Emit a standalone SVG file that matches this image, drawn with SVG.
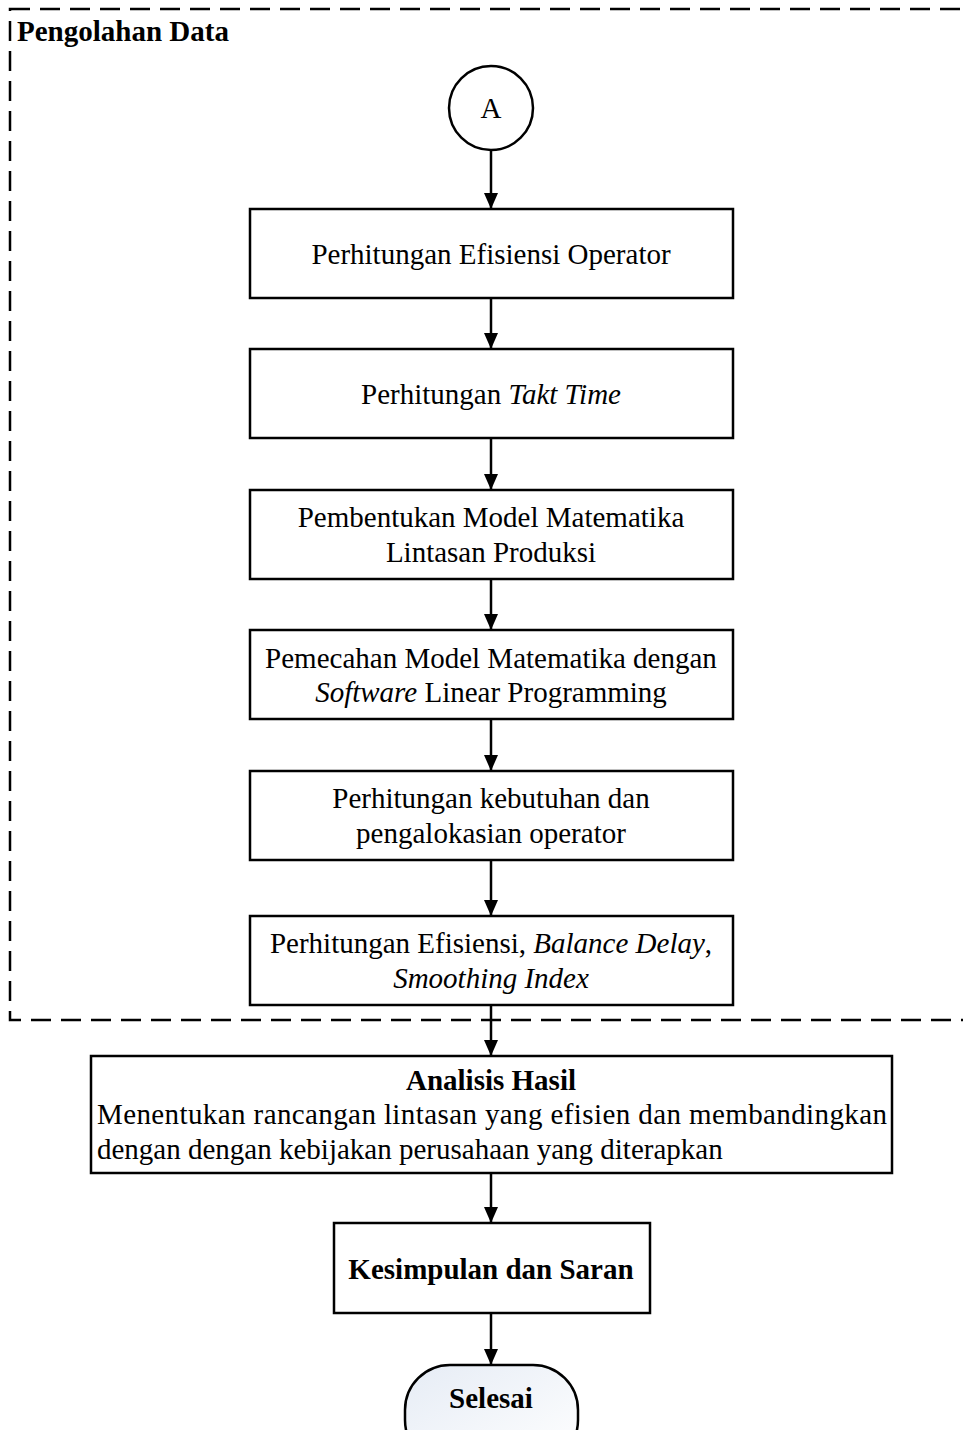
<svg xmlns="http://www.w3.org/2000/svg" width="963" height="1430" viewBox="0 0 963 1430">
<style>
.box{fill:#fff;stroke:#000;stroke-width:2.5}
.t{font-family:"Liberation Serif","Times New Roman",serif;font-size:29px;fill:#000;text-anchor:middle}
.b{font-weight:bold}
.i{font-style:italic}
.con{stroke:#000;stroke-width:2.5;fill:none}
</style>
<defs>
<marker id="arr" viewBox="0 0 16 14" refX="16" refY="7" markerWidth="16" markerHeight="14" markerUnits="userSpaceOnUse" orient="auto">
<path d="M0,0 L16,7 L0,14 Z" fill="#000"/>
</marker>
<linearGradient id="g" x1="0" y1="0" x2="1" y2="1">
<stop offset="0" stop-color="#e6ecf5"/>
<stop offset="1" stop-color="#ffffff"/>
</linearGradient>
</defs>
<g id="frame">
<rect x="10" y="9" width="1000" height="1011" fill="none" stroke="#000" stroke-width="2.5" stroke-dasharray="20 10"/>
<text class="t b" x="17" y="41" style="text-anchor:start">Pengolahan Data</text>
</g>
<g id="connectors">
<line class="con" x1="491" y1="150" x2="491" y2="209" marker-end="url(#arr)"/>
<line class="con" x1="491" y1="298" x2="491" y2="349" marker-end="url(#arr)"/>
<line class="con" x1="491" y1="438" x2="491" y2="490" marker-end="url(#arr)"/>
<line class="con" x1="491" y1="579" x2="491" y2="630" marker-end="url(#arr)"/>
<line class="con" x1="491" y1="719" x2="491" y2="771" marker-end="url(#arr)"/>
<line class="con" x1="491" y1="860" x2="491" y2="916" marker-end="url(#arr)"/>
<line class="con" x1="491" y1="1005" x2="491" y2="1056" marker-end="url(#arr)"/>
<line class="con" x1="491" y1="1173" x2="491" y2="1223" marker-end="url(#arr)"/>
<line class="con" x1="491" y1="1313" x2="491" y2="1365" marker-end="url(#arr)"/>
</g>
<g id="nodeA">
<circle cx="491" cy="108" r="42" class="box"/>
<text class="t" x="491" y="118">A</text>
</g>
<g id="n1">
<rect class="box" x="250" y="209" width="483" height="89"/>
<text class="t" x="491" y="264">Perhitungan Efisiensi Operator</text>
</g>
<g id="n2">
<rect class="box" x="250" y="349" width="483" height="89"/>
<text class="t" x="491" y="404">Perhitungan <tspan class="i">Takt Time</tspan></text>
</g>
<g id="n3">
<rect class="box" x="250" y="490" width="483" height="89"/>
<text class="t" x="491" y="527">Pembentukan Model Matematika</text>
<text class="t" x="491" y="562">Lintasan Produksi</text>
</g>
<g id="n4">
<rect class="box" x="250" y="630" width="483" height="89"/>
<text class="t" x="491" y="668">Pemecahan Model Matematika dengan</text>
<text class="t" x="491" y="702"><tspan class="i">Software</tspan> Linear Programming</text>
</g>
<g id="n5">
<rect class="box" x="250" y="771" width="483" height="89"/>
<text class="t" x="491" y="808">Perhitungan kebutuhan dan</text>
<text class="t" x="491" y="843">pengalokasian operator</text>
</g>
<g id="n6">
<rect class="box" x="250" y="916" width="483" height="89"/>
<text class="t" x="491" y="953">Perhitungan Efisiensi, <tspan class="i">Balance Delay</tspan>,</text>
<text class="t i" x="491" y="988">Smoothing Index</text>
</g>
<g id="n7">
<rect class="box" x="91" y="1056" width="801" height="117"/>
<text class="t b" x="491" y="1090">Analisis Hasil</text>
<text class="t" x="97" y="1124" style="text-anchor:start" textLength="790" lengthAdjust="spacing">Menentukan rancangan lintasan yang efisien dan membandingkan</text>
<text class="t" x="97" y="1159" style="text-anchor:start">dengan dengan kebijakan perusahaan yang diterapkan</text>
</g>
<g id="n8">
<rect class="box" x="334" y="1223" width="316" height="90"/>
<text class="t b" x="491" y="1279">Kesimpulan dan Saran</text>
</g>
<g id="n9">
<rect x="405" y="1365" width="173" height="100" rx="45" ry="45" fill="url(#g)" stroke="#000" stroke-width="2.5"/>
<text class="t b" x="491" y="1408">Selesai</text>
</g>
</svg>
